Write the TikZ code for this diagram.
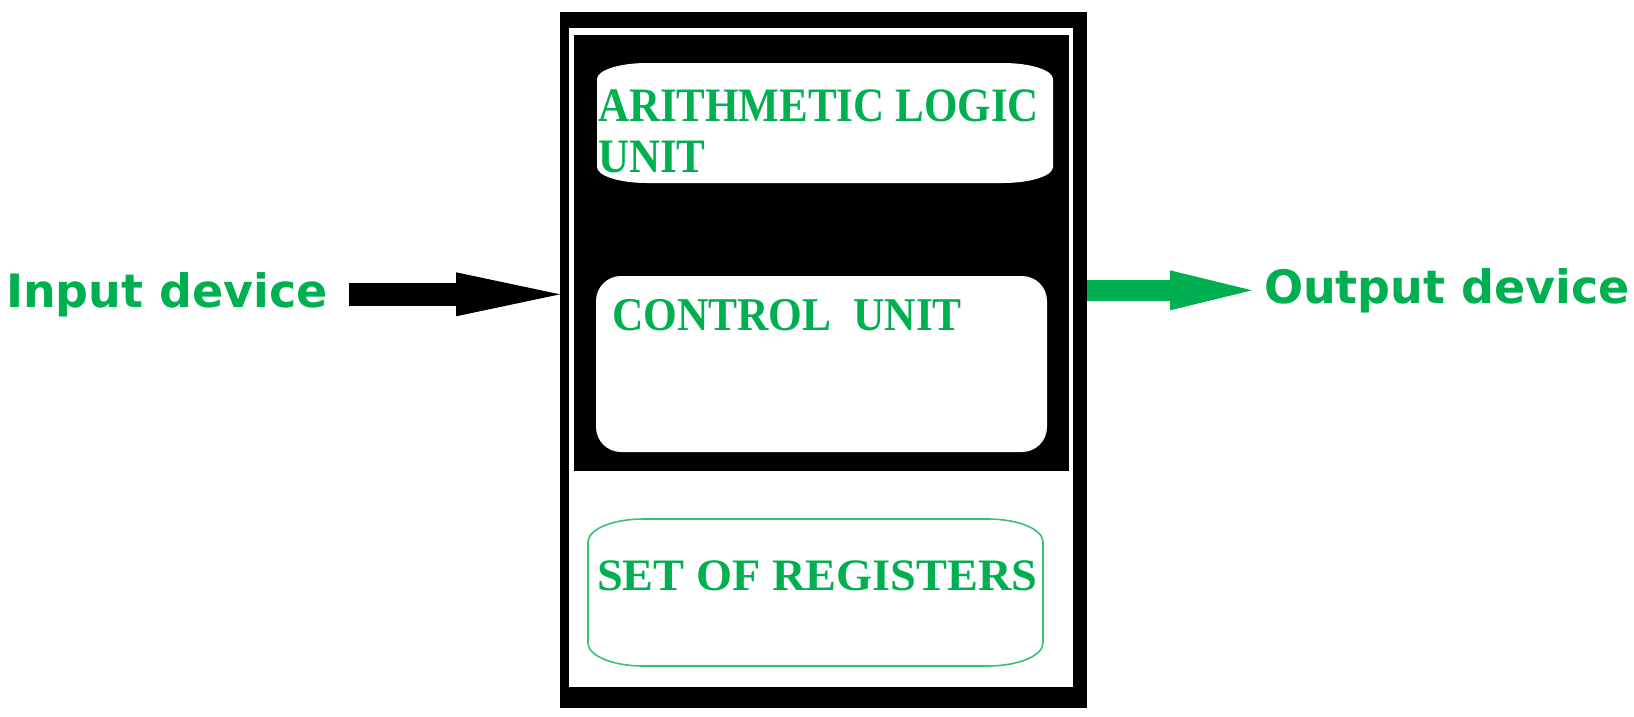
\documentclass[tikz,border=0pt]{standalone}
\usepackage{fontspec}
\usepackage{graphicx}
\usetikzlibrary{arrows.meta}
\newfontfamily\labelfont{DejaVu Sans}
\newfontfamily\unitfont{Liberation Serif}
\definecolor{xlgreen}{RGB}{0,176,80}
\definecolor{regline}{RGB}{50,195,115}
\tikzset{
  frameblk/.style={fill=black, draw=none, inner sep=0pt, outer sep=0pt},
  lbl/.style={font=\labelfont\bfseries\fontsize{46}{55}\selectfont, text=xlgreen, inner sep=0pt, outer sep=0pt, anchor=base west},
  unittxt/.style={text=xlgreen, inner sep=0pt, outer sep=0pt, align=left},
  ufont/.style={font=\unitfont\bfseries\fontsize{#1}{51}\selectfont}
}
\begin{document}
\begin{tikzpicture}[x=1pt,y=-1pt]
\useasboundingbox (0,0) rectangle (1634,716);
% CPU frame
\node[frameblk, minimum width=527pt, minimum height=696pt] (cpu) at (823.5,360) {};
\fill[white] (569,28) rectangle (1073,687);
\fill[black] (574,35) rectangle (1069,471);
% ALU barrel
\fill[white] (597,79) .. controls (597,70.2) and (619.4,63) .. (647,63)
  -- (1003,63) .. controls (1030.6,63) and (1053,70.2) .. (1053,79)
  -- (1053,167) .. controls (1053,175.8) and (1030.6,183) .. (1003,183)
  -- (647,183) .. controls (619.4,183) and (597,175.8) .. (597,167) -- cycle;
% Control unit
\node[fill=white, draw=none, rounded corners=25pt, minimum width=451pt, minimum height=176pt, inner sep=0pt] (cu) at (821.5,364) {};
% Registers
\draw[regline, line width=1.6pt] (588,542) .. controls (588,529.3) and (612.6,519) .. (643,519)
  -- (988,519) .. controls (1018.4,519) and (1043,529.3) .. (1043,542)
  -- (1043,643) .. controls (1043,655.7) and (1018.4,666) .. (988,666)
  -- (643,666) .. controls (612.6,666) and (588,655.7) .. (588,643) -- cycle;
% texts
\node[unittxt, ufont=48, anchor=north west] (alu) at (598,89.5)
  {\scalebox{0.896}[1]{ARITHMETIC LOGIC}\\\scalebox{0.896}[1]{UNIT}};
\node[unittxt, ufont=47, anchor=base west] (cutxt) at (612,330)
  {\scalebox{0.924}[1]{CONTROL\ \ UNIT}};
\node[unittxt, ufont=45, anchor=base west] (sor) at (597,590)
  {\scalebox{1.03}[1]{SET OF REGISTERS}};
\node[lbl] (inp) at (6,307) {Input device};
\node[lbl] (outp) at (1264,303) {Output device};
% arrows
\draw[black, line width=23pt, shorten <=21pt, -{Triangle[length=104pt,width=44pt,line width=0pt]}]
  (inp.east) -- (inp.east -| cpu.west);
\draw[xlgreen, line width=21pt, shorten >=12pt, -{Triangle[length=82pt,width=40pt,line width=0pt]}]
  (cpu.east |- outp.west) -- (outp.west);
\end{tikzpicture}
\end{document}
